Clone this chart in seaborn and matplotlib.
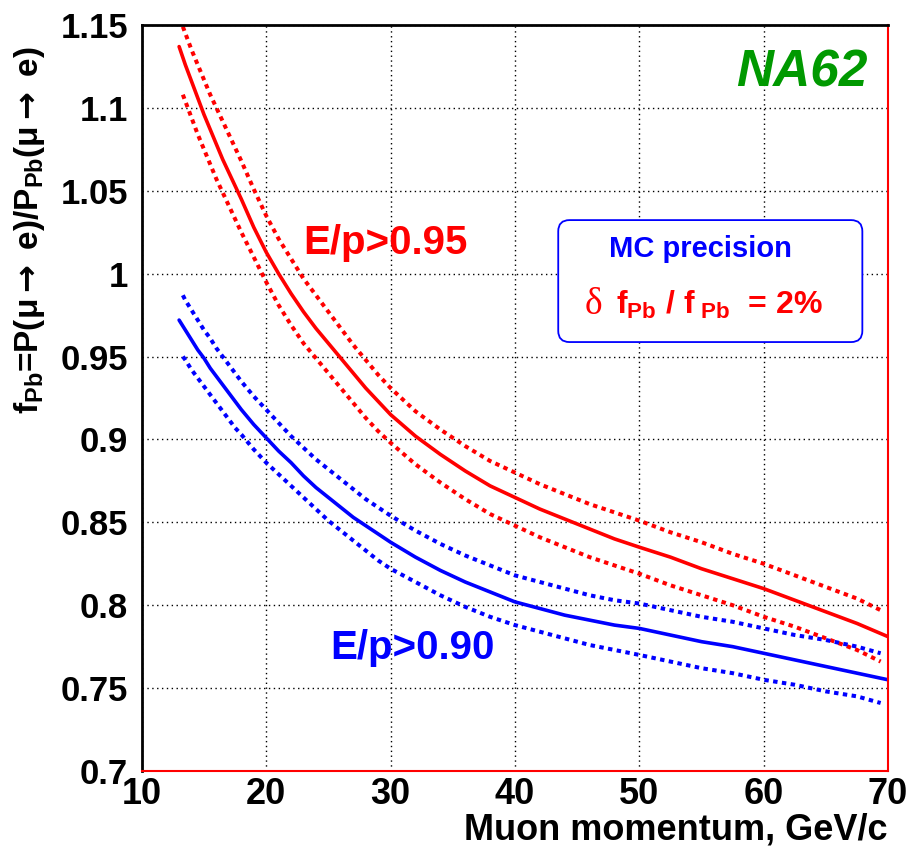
import matplotlib
matplotlib.use("Agg")
import matplotlib.pyplot as plt
from matplotlib.patches import FancyBboxPatch
import seaborn as sns
import pandas as pd

# ---- data ----
mid_x = [13, 13.5, 14, 14.5, 15, 15.5, 16, 16.5, 17, 17.5, 18, 19, 20, 21, 22, 23, 24, 25, 26, 27, 28, 29, 30,
         32, 34, 36, 38, 40, 42, 44, 46, 48, 50, 52.5, 55, 57.5, 60, 62.5, 65, 67.5, 70]
band_x = [13.3, 13.5, 14, 14.5, 15, 15.5, 16, 16.5, 17, 17.5, 18, 19, 20, 21, 22, 23, 24, 25, 26, 27, 28, 29, 30,
          32, 34, 36, 38, 40, 42, 44, 46, 48, 50, 52.5, 55, 57.5, 60, 62.5, 65, 67.5, 69.4]

red_mid = [1.137, 1.126, 1.116, 1.106, 1.096, 1.087, 1.078, 1.069, 1.061, 1.053, 1.045, 1.028, 1.013, 1.000, 0.988,
           0.977, 0.967, 0.958, 0.949, 0.940, 0.931, 0.923, 0.915, 0.902, 0.891, 0.881, 0.872, 0.865, 0.858, 0.852,
           0.846, 0.840, 0.835, 0.829, 0.822, 0.816, 0.810, 0.803, 0.796, 0.789, 0.781]
red_up = [1.149, 1.145, 1.135, 1.126, 1.117, 1.108, 1.100, 1.092, 1.084, 1.076, 1.068, 1.051, 1.035, 1.021, 1.009,
          0.997, 0.987, 0.977, 0.967, 0.957, 0.948, 0.939, 0.931, 0.917, 0.906, 0.896, 0.887, 0.880, 0.873, 0.867,
          0.861, 0.856, 0.851, 0.844, 0.838, 0.831, 0.825, 0.818, 0.811, 0.804, 0.797]
red_lo = [1.108, 1.104, 1.094, 1.084, 1.075, 1.066, 1.057, 1.049, 1.041, 1.033, 1.025, 1.010, 0.995, 0.981, 0.969,
          0.958, 0.949, 0.940, 0.931, 0.922, 0.913, 0.905, 0.898, 0.885, 0.874, 0.864, 0.855, 0.848, 0.841, 0.835,
          0.829, 0.824, 0.819, 0.812, 0.806, 0.800, 0.793, 0.787, 0.780, 0.773, 0.766]

blue_mid = [0.972, 0.966, 0.960, 0.954, 0.949, 0.943, 0.938, 0.933, 0.928, 0.923, 0.918, 0.909, 0.901, 0.893, 0.886,
            0.878, 0.871, 0.865, 0.859, 0.853, 0.848, 0.843, 0.838, 0.829, 0.821, 0.814, 0.808, 0.802, 0.798, 0.794,
            0.791, 0.788, 0.786, 0.782, 0.778, 0.775, 0.771, 0.767, 0.763, 0.759, 0.755]
blue_up = [0.987, 0.984, 0.978, 0.972, 0.966, 0.961, 0.955, 0.950, 0.945, 0.940, 0.935, 0.926, 0.918, 0.910, 0.902,
           0.895, 0.888, 0.882, 0.876, 0.870, 0.864, 0.859, 0.854, 0.845, 0.837, 0.830, 0.824, 0.818, 0.814, 0.810,
           0.806, 0.803, 0.801, 0.797, 0.793, 0.790, 0.786, 0.782, 0.779, 0.775, 0.771]
blue_lo = [0.950, 0.948, 0.942, 0.937, 0.932, 0.927, 0.922, 0.917, 0.912, 0.907, 0.903, 0.894, 0.886, 0.879, 0.872,
           0.865, 0.858, 0.851, 0.845, 0.839, 0.833, 0.827, 0.822, 0.814, 0.806, 0.799, 0.793, 0.788, 0.784, 0.780,
           0.776, 0.773, 0.770, 0.766, 0.762, 0.759, 0.755, 0.752, 0.748, 0.745, 0.741]

y_ticks = [0.7, 0.75, 0.8, 0.85, 0.9, 0.95, 1.0, 1.05, 1.1, 1.15]
y_tick_labels = ["0.7", "0.75", "0.8", "0.85", "0.9", "0.95", "1", "1.05", "1.1", "1.15"]
x_ticks = [10, 20, 30, 40, 50, 60, 70]
x_tick_labels = ["10", "20", "30", "40", "50", "60", "70"]

sns.set_style("white")
plt.rcParams["font.family"] = ["Liberation Sans", "DejaVu Sans"]
plt.rcParams["font.weight"] = "bold"
plt.rcParams["text.color"] = "black"
plt.rcParams["xtick.color"] = "black"
plt.rcParams["ytick.color"] = "black"
plt.rcParams["xtick.labelcolor"] = "black"
plt.rcParams["ytick.labelcolor"] = "black"
plt.rcParams["mathtext.fontset"] = "custom"
plt.rcParams["mathtext.rm"] = "Liberation Sans:bold"
plt.rcParams["mathtext.bf"] = "Liberation Sans:bold"
plt.rcParams["mathtext.it"] = "Liberation Sans:bold"
plt.rcParams["mathtext.sf"] = "DejaVu Sans:bold"
plt.rcParams["mathtext.default"] = "rm"

fig = plt.figure(figsize=(9.09, 8.46), dpi=100)
ax = fig.add_axes([0.156, 0.0887, 0.821, 0.8817])

RED = "#ff0000"
BLUE = "#0000ff"
dot = (1.1, 1.1)

curves = [
    (mid_x, red_mid, RED, "-"),
    (band_x, red_up, RED, ":"),
    (band_x, red_lo, RED, ":"),
    (mid_x, blue_mid, BLUE, "-"),
    (band_x, blue_up, BLUE, ":"),
    (band_x, blue_lo, BLUE, ":"),
]
for xs, ys, col, ls in curves:
    df = pd.DataFrame({"p": xs, "f": ys})
    sns.lineplot(data=df, x="p", y="f", color=col, lw=2.6, ax=ax, estimator=None, sort=False)
    ln = ax.lines[-1]
    if ls == ":":
        ln.set_linewidth(2.9)
        ln.set_dashes(dot)
        ln.set_dash_capstyle("butt")

ax.set_xlim(10, 70)
ax.set_ylim(0.7, 1.15)
ax.set_xticks(x_ticks)
ax.set_xticklabels(x_tick_labels, fontsize=26, fontweight="bold", color="black")
ax.set_yticks(y_ticks)
ax.set_yticklabels(y_tick_labels, fontsize=25, fontweight="bold", color="black")
ax.set_xticks([x for x in range(10, 71, 2)], minor=True)
ax.set_yticks([0.7 + 0.01 * i for i in range(46)], minor=True)
ax.tick_params(axis="both", which="major", direction="in", length=16, width=1.2,
               top=False, right=False, color="black")
ax.tick_params(axis="both", which="minor", direction="in", length=9, width=1.0,
               top=False, right=False, color="black")
ax.tick_params(axis="x", which="major", pad=4)
ax.tick_params(axis="y", which="major", pad=10)
ax.grid(True, which="major", color="black", linestyle=(0, (1, 2.5)), linewidth=1.0)

for side in ["left", "top"]:
    ax.spines[side].set_color("black")
    ax.spines[side].set_linewidth(2.0)
for side in ["right", "bottom"]:
    ax.spines[side].set_color(RED)
    ax.spines[side].set_linewidth(1.5)

ax.set_xlabel("")
ax.set_ylabel("")
fig.text(888 / 909, 7 / 846, "Muon momentum, GeV/c", fontsize=26, fontweight="bold",
         color="black", ha="right", va="baseline")
fig.text(47 / 909, 0.728,
         r"f$_{Pb}$=P($\mu\mathsf{\rightarrow}$ e)/P$_{Pb}$($\mu\mathsf{\rightarrow}$ e)",
         fontsize=24, fontweight="bold", color="black", rotation=90, ha="right", va="center")

ax.text(0.973, 0.936, "NA62", transform=ax.transAxes, color="#009900", fontsize=37,
        fontweight="bold", style="italic", ha="right", va="center")
ax.text(0.216, 0.708, "E/p>0.95", transform=ax.transAxes, color=RED, fontsize=29,
        fontweight="bold", ha="left", va="center")
ax.text(0.252, 0.165, "E/p>0.90", transform=ax.transAxes, color=BLUE, fontsize=29,
        fontweight="bold", ha="left", va="center")

box = FancyBboxPatch((0.558, 0.575), 0.4075, 0.1635, transform=ax.transAxes,
                     boxstyle="round,pad=0,rounding_size=0.015", facecolor="white",
                     edgecolor=BLUE, linewidth=1.3, zorder=5)
ax.add_patch(box)
ax.text(0.748, 0.700, "MC precision", transform=ax.transAxes, color=BLUE, fontsize=21,
        fontweight="bold", ha="center", va="center", zorder=6)
ax.text(0.594, 0.625, "δ", transform=ax.transAxes, color=RED, fontsize=27,
        fontweight="normal", family=["Liberation Serif", "DejaVu Serif"],
        ha="left", va="center", zorder=6)
ax.text(0.635, 0.625, r"f$_{Pb}$ / f$_{\ Pb}$  = 2%",
        transform=ax.transAxes, color=RED, fontsize=23, fontweight="bold",
        ha="left", va="center", zorder=6)

fig.savefig("out.png", dpi=100, facecolor="white")
